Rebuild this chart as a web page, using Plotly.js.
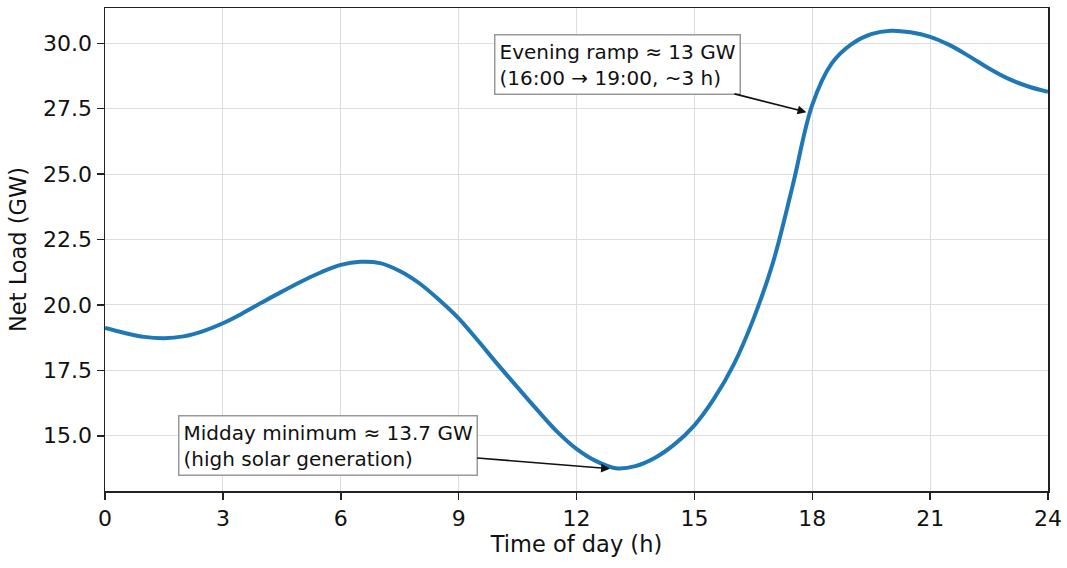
<!DOCTYPE html>
<html>
<head>
<meta charset="utf-8">
<script src="https://cdn.plot.ly/plotly-3.0.1.min.js"></script>
<style>
  html, body { margin: 0; padding: 0; background: #fff; }
  #chart { width: 1067px; height: 568px; }
</style>
</head>
<body>
<div id="chart"></div>
<script>
// hour of day (every half hour)
var hours = [0, 0.5, 1, 1.5, 2, 2.5, 3, 3.5, 4, 4.5, 5, 5.5, 6, 6.5, 7, 7.5, 8, 8.5,
             9, 9.5, 10, 10.5, 11, 11.5, 12, 12.5, 13, 13.5, 14, 14.5, 15, 15.5, 16, 16.5,
             17, 17.5, 18, 18.5, 19, 19.5, 20, 20.5, 21, 21.5, 22, 22.5, 23, 23.5, 24];
// net load, GW
var netLoad = [19.12, 18.93, 18.78, 18.73, 18.80, 19.00, 19.30, 19.68, 20.10, 20.51, 20.90, 21.25,
               21.53, 21.65, 21.60, 21.30, 20.83, 20.20, 19.49, 18.62, 17.72, 16.85, 15.99, 15.17,
               14.50, 14.03, 13.76, 13.84, 14.16, 14.68, 15.40, 16.42, 17.72, 19.45, 21.62, 24.55,
               27.65, 29.24, 29.97, 30.35, 30.48, 30.42, 30.25, 29.93, 29.50, 29.04, 28.64, 28.35, 28.15];

var xTicks = [0, 3, 6, 9, 12, 15, 18, 21, 24];
var yTicks = [15, 17.5, 20, 22.5, 25, 27.5, 30];

// annotation anchors
var rampPoint = [17.85, 27.37];
var minPoint = [12.85, 13.74];

var trace = {
  x: hours,
  y: netLoad,
  mode: 'lines',
  line: { color: '#1f77b4', width: 4, shape: 'spline', smoothing: 1 },
  type: 'scatter',
  hoverinfo: 'x+y'
};

var axisCommon = {
  showline: true,
  mirror: true,
  linecolor: '#222',
  linewidth: 1.5,
  ticks: 'outside',
  ticklen: 7,
  tickwidth: 1.5,
  tickcolor: '#222',
  showgrid: true,
  gridcolor: '#dedede',
  gridwidth: 1,
  zeroline: false,
  tickfont: { size: 22, color: '#111' }
};

var layout = {
  width: 1067,
  height: 568,
  showlegend: false,
  paper_bgcolor: '#fff',
  plot_bgcolor: '#fff',
  font: { family: 'DejaVu Sans, sans-serif', color: '#111' },
  margin: { l: 105, r: 19, t: 8, b: 77 },
  xaxis: Object.assign({}, axisCommon, {
    range: [0, 24],
    tickvals: xTicks,
    ticktext: xTicks.map(String),
    title: { text: 'Time of day (h)', font: { size: 22.5 }, standoff: 6 }
  }),
  yaxis: Object.assign({}, axisCommon, {
    range: [12.89, 31.35],
    tickvals: yTicks,
    ticktext: yTicks.map(function (v) { return v.toFixed(1); }),
    title: { text: 'Net Load (GW)', font: { size: 22.5 }, standoff: 10 }
  }),
  annotations: [
    {
      x: rampPoint[0], y: rampPoint[1], xref: 'x', yref: 'y',
      ax: -189, ay: -48,
      text: 'Evening ramp ≈ 13 GW<br>(16:00 → 19:00, ~3 h)',
      align: 'left',
      showarrow: true, arrowhead: 2, arrowsize: 1.1, arrowwidth: 1.6, arrowcolor: '#111',
      bgcolor: '#fff', bordercolor: '#999', borderwidth: 1.5, borderpad: 4,
      font: { size: 20, color: '#111' }
    },
    {
      x: minPoint[0], y: minPoint[1], xref: 'x', yref: 'y',
      ax: -282, ay: -23,
      text: 'Midday minimum ≈ 13.7 GW<br>(high solar generation)',
      align: 'left',
      showarrow: true, arrowhead: 2, arrowsize: 1.1, arrowwidth: 1.6, arrowcolor: '#111',
      bgcolor: '#fff', bordercolor: '#999', borderwidth: 1.5, borderpad: 4,
      font: { size: 20, color: '#111' }
    }
  ]
};

Plotly.newPlot('chart', [trace], layout, { displayModeBar: false, staticPlot: true });
</script>
</body>
</html>
